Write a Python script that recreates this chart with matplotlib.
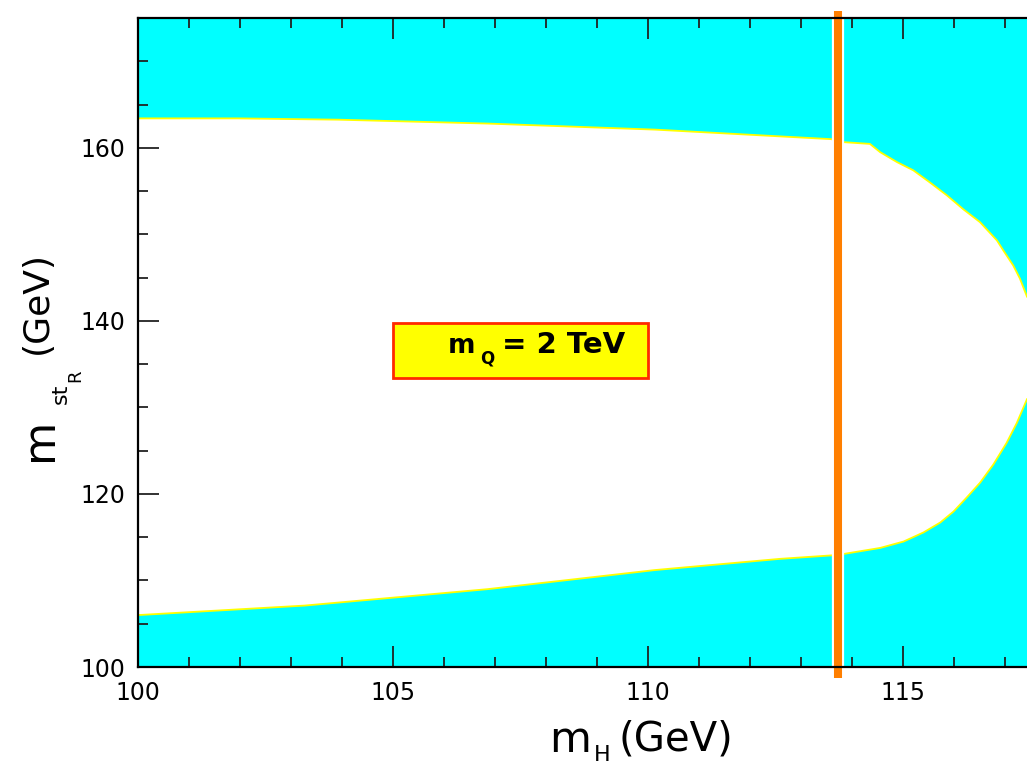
import numpy as np
import matplotlib
matplotlib.use("Agg")
import matplotlib.pyplot as plt
from matplotlib.patches import Rectangle

plt.rcParams['font.family'] = ['DejaVu Sans']

# Upper boundary of allowed (white) region
upper_x = [100.0, 101.96, 103.92, 106.86, 110.14, 113.59, 113.84, 114.35, 114.55, 114.88,
           115.2, 115.53, 115.86, 116.18, 116.51, 116.84, 116.97, 117.16, 117.29, 117.43]
upper_y = [163.4, 163.4, 163.25, 162.8, 162.1, 161.0, 160.65, 160.45, 159.5, 158.35,
           157.4, 155.98, 154.5, 152.9, 151.4, 149.3, 148.1, 146.4, 144.9, 142.8]
# Lower boundary of allowed region
lower_x = [100.0, 103.27, 106.86, 110.13, 112.59, 113.6, 113.84, 114.55, 115.01, 115.4,
           115.73, 115.99, 116.25, 116.51, 116.77, 117.03, 117.23, 117.43]
lower_y = [106.0, 107.1, 109.0, 111.2, 112.5, 112.9, 113.07, 113.76, 114.5, 115.55,
           116.7, 117.97, 119.6, 121.3, 123.4, 125.9, 128.2, 130.95]

lep_bound = 113.73
xlim = (100, 117.43)
ylim = (100, 174.6)
xticks_major = [100, 105, 110, 115]
yticks_major = [100, 120, 140, 160]

W, H = 1027, 763
fig = plt.figure(figsize=(W / 100, H / 100), dpi=100)
ax = fig.add_axes([138 / W, 96 / H, 1 - 138 / W, 649 / H])
ax.set_facecolor('#00FFFF')


def fx(px):
    return px / W


def fy(py):
    return 1 - py / H


poly_x = np.concatenate([upper_x, lower_x[::-1]])
poly_y = np.concatenate([upper_y, lower_y[::-1]])
ax.fill(poly_x, poly_y, color='white', lw=0, zorder=1)
ax.plot(upper_x, upper_y, color='#FFFF00', lw=1.3, zorder=2)
ax.plot(lower_x, lower_y, color='#FFFF00', lw=1.3, zorder=2)

# LEP bound line with white halo
ax.axvline(lep_bound, color='white', lw=8.8, zorder=3)
ax.plot([lep_bound, lep_bound], [98.7, 175.8], color='#FF7F00', lw=5.8,
        solid_capstyle='butt', clip_on=False, zorder=4)

# Label box
ax.add_patch(Rectangle((105.0, 133.4), 5.0, 6.4, facecolor='#FFFF00',
                       edgecolor='#FF2A00', lw=2, zorder=5))
fig.text(fx(448), fy(353), 'm', fontsize=19, fontweight='bold',
         ha='left', va='baseline', zorder=6)
fig.text(fx(480), fy(364), 'Q', fontsize=12, fontweight='bold',
         ha='left', va='baseline', zorder=6)
fig.text(fx(502), fy(353), '= 2 TeV', fontsize=21, fontweight='bold',
         ha='left', va='baseline', zorder=6)

ax.set_xlim(*xlim)
ax.set_ylim(*ylim)
ax.set_xticks(xticks_major)
ax.set_xticks(np.arange(100, 118, 1), minor=True)
ax.set_yticks(yticks_major)
ax.set_yticks(np.arange(100, 176, 5), minor=True)
ax.tick_params(which='both', direction='in', top=True, right=False,
               labelsize=17, width=1.3, color='#222222')
ax.tick_params(which='major', length=15, pad=10)
ax.tick_params(which='minor', length=7.5)
ax.tick_params(axis='y', which='major', pad=9)

for s in ['left', 'bottom', 'top']:
    ax.spines[s].set_linewidth(1.6)
    ax.spines[s].set_zorder(7)
ax.spines['right'].set_visible(False)

# x-axis label: m_H (GeV)
fig.text(fx(549), fy(752), 'm', fontsize=31, ha='left', va='baseline')
fig.text(fx(594), fy(761), 'H', fontsize=16, ha='left', va='baseline')
fig.text(fx(619), fy(751), '(GeV)', fontsize=29, ha='left', va='baseline')

# y-axis label: m_{st_R} (GeV)
kw = dict(rotation=90, rotation_mode='anchor', ha='left', va='baseline')
fig.text(fx(52), fy(461), 'm', fontsize=32, **kw)
fig.text(fx(67), fy(404), 'st', fontsize=16, **kw)
fig.text(fx(80), fy(382), 'R', fontsize=13, **kw)
fig.text(fx(47), fy(354), '(GeV)', fontsize=26, **kw)

fig.savefig('out.png', dpi=100)
